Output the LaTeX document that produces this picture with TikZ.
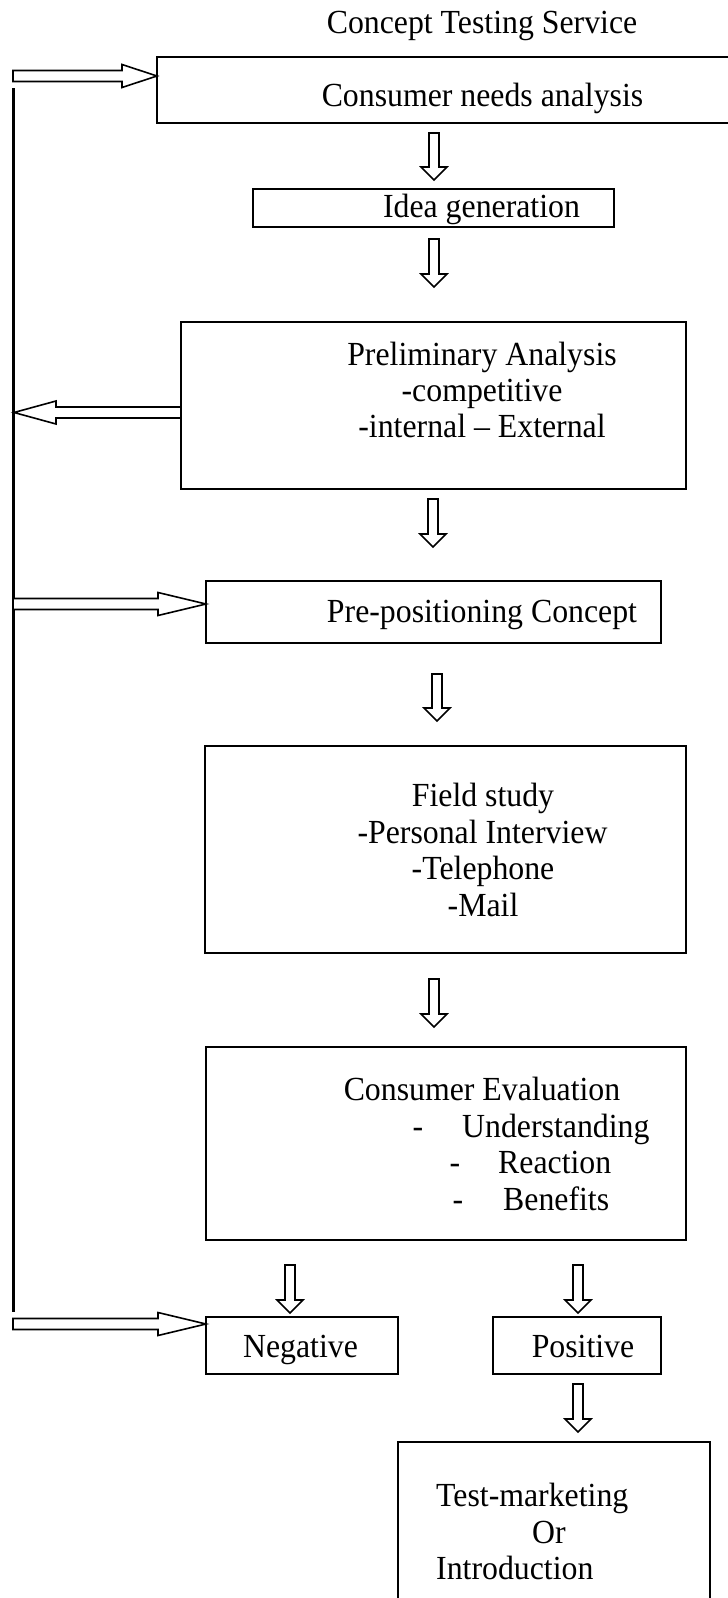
\documentclass[tikz,border=0pt]{standalone}
\usepackage{fontspec}
\setmainfont{Liberation Serif}
\usetikzlibrary{calc}
\tikzset{
 box/.style={draw, line width=2.2pt, rectangle, inner sep=0pt, outer sep=0pt},
 txt/.style={anchor=base, inner sep=0pt, font=\fontsize{31.8}{36}\selectfont},
 txtl/.style={txt, anchor=base west},
 barrow/.style={draw, line width=1.6pt, fill=white, line join=miter},
 fbline/.style={draw, line width=2.1pt}
}
\newcommand\Tx[1]{\scalebox{1}[1.06]{#1}}
% block arrow pointing down: #1 start, #2 tip
\newcommand\BlkDown[2]{%
 \draw[barrow] ($(#1)+(-5,0)$) -- ($(#2)+(-5,-13)$) -- ($(#2)+(-13,-13)$) -- (#2)
   -- ($(#2)+(13,-13)$) -- ($(#2)+(5,-13)$) -- ($(#1)+(5,0)$) -- cycle;}
% block arrow pointing right: #1 start, #2 tip, #3 head length
\newcommand\BlkRight[3]{%
 \draw[barrow] ($(#1)+(0,-5.5)$) -- ($(#2)+(-#3,-5.5)$) -- ($(#2)+(-#3,-11.5)$) -- (#2)
   -- ($(#2)+(-#3,11.5)$) -- ($(#2)+(-#3,5.5)$) -- ($(#1)+(0,5.5)$) -- cycle;}
% block arrow pointing left: #1 start, #2 tip, #3 head length
\newcommand\BlkLeft[3]{%
 \draw[barrow] ($(#1)+(0,-5.5)$) -- ($(#2)+(#3,-5.5)$) -- ($(#2)+(#3,-11.5)$) -- (#2)
   -- ($(#2)+(#3,11.5)$) -- ($(#2)+(#3,5.5)$) -- ($(#1)+(0,5.5)$) -- cycle;}
\begin{document}
\begin{tikzpicture}[x=1pt,y=-1pt]
\useasboundingbox (0,0) rectangle (728,1598);
\clip (0,0) rectangle (728,1598);

% title
\node[txt] (title) at (482,33) {\Tx{Concept Testing Service}};

% boxes
\node[box, minimum width=583, minimum height=66] (cna) at (448.5,90) {};
\node[box, minimum width=361, minimum height=38] (idea) at (433.5,208) {};
\node[box, minimum width=505, minimum height=167] (prelim) at (433.5,405.5) {};
\node[box, minimum width=455, minimum height=62] (prepos) at (433.5,612) {};
\node[box, minimum width=481, minimum height=207] (field) at (445.5,849.5) {};
\node[box, minimum width=480, minimum height=193] (eval) at (446,1143.5) {};
\node[box, minimum width=192, minimum height=57] (neg) at (302,1345.5) {};
\node[box, minimum width=168, minimum height=57] (pos) at (577,1345.5) {};
\node[box, minimum width=312, minimum height=168] (final) at (554,1526) {};

% texts
\node[txt] (cnat) at (482.5,106) {\Tx{Consumer needs analysis}};
\node[txt] (ideat) at (481.5,217) {\Tx{Idea generation}};
\node[txt] (prel1) at (482,365) {\Tx{Preliminary Analysis}};
\node[txt] (prel2) at (482,401) {\Tx{-competitive}};
\node[txt] (prel3) at (482,437) {\Tx{-internal – External}};
\node[txt] (preposT) at (482,622) {\Tx{Pre-positioning Concept}};
\node[txt] (fld1) at (483,806) {\Tx{Field study}};
\node[txt] (fld2) at (482.5,843) {\Tx{-Personal Interview}};
\node[txt] (fld3) at (483,879) {\Tx{-Telephone}};
\node[txt] (fld4) at (483,916) {\Tx{-Mail}};
\node[txt] (ev1) at (482,1100) {\Tx{Consumer Evaluation}};
\node[txt] (ev2d) at (418,1137) {\Tx{-}};
\node[txtl] (ev2) at (462,1137) {\Tx{Understanding}};
\node[txt] (ev3d) at (455,1173) {\Tx{-}};
\node[txtl] (ev3) at (498,1173) {\Tx{Reaction}};
\node[txt] (ev4d) at (458,1210) {\Tx{-}};
\node[txtl] (ev4) at (503,1210) {\Tx{Benefits}};
\node[txt] (negt) at (300.5,1357) {\Tx{Negative}};
\node[txt] (post) at (583,1357) {\Tx{Positive}};
\node[txtl] (fin1) at (436,1506) {\Tx{Test-marketing}};
\node[txtl] (fin2) at (532,1543) {\Tx{Or}};
\node[txtl] (fin3) at (436,1579) {\Tx{Introduction}};

% arrow end points
\coordinate (d1s) at (434,133);  \coordinate (d1e) at (434,180);
\coordinate (d2s) at (434,239);  \coordinate (d2e) at (434,287);
\coordinate (d3s) at (433,499);  \coordinate (d3e) at (433,547);
\coordinate (d4s) at (437,674);  \coordinate (d4e) at (437,721);
\coordinate (d5s) at (434,979);  \coordinate (d5e) at (434,1027);
\coordinate (d6s) at (290,1265); \coordinate (d6e) at (290,1313);
\coordinate (d7s) at (578,1265); \coordinate (d7e) at (578,1313);
\coordinate (d8s) at (578,1384); \coordinate (d8e) at (578,1432);

\coordinate (fbtop) at (13.5,88);
\coordinate (fbbot) at (13.5,1312);
\coordinate (hAs) at (13,76);    \coordinate (hAe) at (157,76);
\coordinate (hBs) at (181,412.5);\coordinate (hBe) at (14,412.5);
\coordinate (hCs) at (13,604);   \coordinate (hCe) at (206,604);
\coordinate (hDs) at (13,1324);  \coordinate (hDe) at (206,1324);

% feedback line
\draw[fbline] (fbtop) -- (fbbot);

% down arrows
\BlkDown{d1s}{d1e}
\BlkDown{d2s}{d2e}
\BlkDown{d3s}{d3e}
\BlkDown{d4s}{d4e}
\BlkDown{d5s}{d5e}
\BlkDown{d6s}{d6e}
\BlkDown{d7s}{d7e}
\BlkDown{d8s}{d8e}

% horizontal arrows
\BlkRight{hAs}{hAe}{35}
\BlkLeft{hBs}{hBe}{42}
\BlkRight{hCs}{hCe}{48}
\BlkRight{hDs}{hDe}{48}
\end{tikzpicture}
\end{document}
